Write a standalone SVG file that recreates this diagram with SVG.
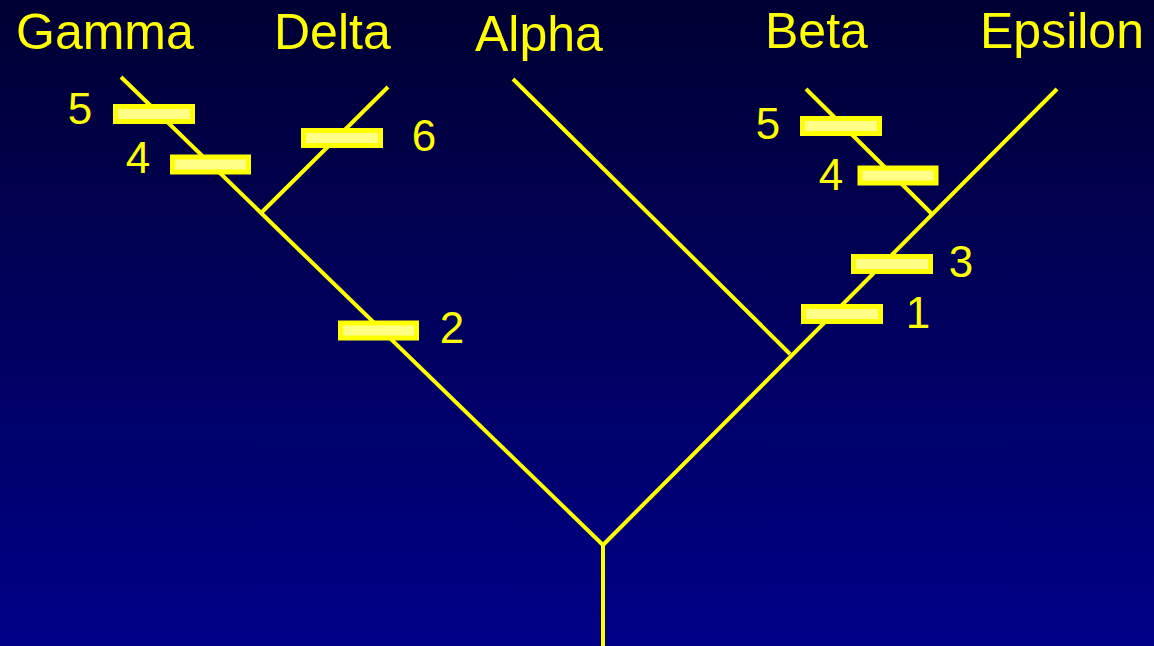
<svg xmlns="http://www.w3.org/2000/svg" width="1154" height="646" viewBox="0 0 1154 646">
<defs>
<linearGradient id="bg" x1="0" y1="0" x2="0" y2="1">
<stop offset="0" stop-color="#000033"/>
<stop offset="1" stop-color="#000088"/>
</linearGradient>
</defs>
<style>
.br{stroke:#FFFF00;stroke-width:4;fill:none;stroke-linecap:butt}
.bar{fill:#FFFF88;stroke:#FFFF00;stroke-width:5}
.t{font-family:"Liberation Sans",Arial,sans-serif;fill:#FFFF00}
.tl{font-size:50px}
.n{font-size:44px;text-anchor:middle}
</style>
<rect width="1154" height="646" fill="url(#bg)"/>
<g id="connectors">
<path class="br" d="M603,646 L603,545"/>
<path class="br" d="M603,545 L121,77"/>
<path class="br" d="M262,212 L388,87"/>
<path class="br" d="M603,545 L1057,89"/>
<path class="br" d="M790,354 L513,79"/>
<path class="br" d="M932,214 L806,89"/>
</g>
<g id="labels">
<g id="gamma"><text class="t tl" x="16" y="49">Gamma</text></g>
<g id="delta"><text class="t tl" x="274" y="49">Delta</text></g>
<g id="alpha"><text class="t tl" x="475" y="51">Alpha</text></g>
<g id="beta"><text class="t tl" x="765" y="48">Beta</text></g>
<g id="epsilon"><text class="t tl" x="980" y="48">Epsilon</text></g>
</g>
<g id="mark-g5"><rect class="bar" x="115.5" y="106.5" width="77" height="15"/><text class="t n" x="80" y="124">5</text></g>
<g id="mark-g4"><rect class="bar" x="172.5" y="157" width="76" height="15"/><text class="t n" x="138" y="173">4</text></g>
<g id="mark-d6"><rect class="bar" x="303.5" y="130.5" width="77" height="15"/><text class="t n" x="424" y="151">6</text></g>
<g id="mark-2"><rect class="bar" x="340.5" y="323" width="76" height="15"/><text class="t n" x="452" y="343">2</text></g>
<g id="mark-b5"><rect class="bar" x="802.5" y="118.5" width="77" height="15"/><text class="t n" x="768" y="139">5</text></g>
<g id="mark-b4"><rect class="bar" x="860" y="168" width="76" height="15"/><text class="t n" x="831" y="190">4</text></g>
<g id="mark-3"><rect class="bar" x="853.5" y="256.5" width="77" height="15"/><text class="t n" x="961" y="277">3</text></g>
<g id="mark-1"><rect class="bar" x="803.5" y="306.5" width="77" height="15"/><text class="t n" x="918" y="328">1</text></g>
</svg>
